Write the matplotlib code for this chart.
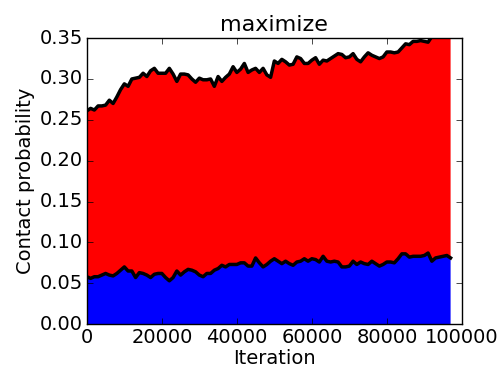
import numpy as np
import matplotlib
matplotlib.use("Agg")
import matplotlib.pyplot as plt

plt.style.use("classic")

iterations = np.arange(0, 98000, 1000)

upper = [0.261, 0.264, 0.262, 0.267, 0.267, 0.268, 0.274, 0.270, 0.278, 0.287,
         0.294, 0.291, 0.300, 0.301, 0.302, 0.307, 0.303, 0.310, 0.313, 0.307,
         0.307, 0.307, 0.313, 0.306, 0.297, 0.306, 0.306, 0.305, 0.300, 0.296,
         0.301, 0.299, 0.299, 0.300, 0.291, 0.303, 0.297, 0.302, 0.306, 0.315,
         0.308, 0.312, 0.319, 0.308, 0.311, 0.313, 0.308, 0.313, 0.305, 0.302,
         0.322, 0.319, 0.324, 0.321, 0.317, 0.318, 0.327, 0.325, 0.319, 0.319,
         0.323, 0.326, 0.318, 0.323, 0.322, 0.325, 0.328, 0.331, 0.330, 0.326,
         0.327, 0.331, 0.324, 0.321, 0.327, 0.332, 0.329, 0.327, 0.325, 0.327,
         0.333, 0.333, 0.332, 0.333, 0.338, 0.343, 0.342, 0.346, 0.346, 0.347,
         0.346, 0.345, 0.352, 0.354, 0.352, 0.356, 0.355, 0.358]

lower = [0.058, 0.056, 0.058, 0.058, 0.060, 0.062, 0.060, 0.059, 0.062, 0.066,
         0.070, 0.065, 0.065, 0.057, 0.063, 0.062, 0.060, 0.057, 0.061, 0.062,
         0.062, 0.057, 0.053, 0.057, 0.065, 0.060, 0.064, 0.067, 0.066, 0.064,
         0.060, 0.058, 0.062, 0.062, 0.066, 0.068, 0.072, 0.070, 0.073, 0.073,
         0.073, 0.075, 0.075, 0.071, 0.071, 0.081, 0.075, 0.070, 0.073, 0.077,
         0.080, 0.077, 0.074, 0.077, 0.074, 0.072, 0.076, 0.077, 0.080, 0.077,
         0.080, 0.079, 0.076, 0.083, 0.077, 0.076, 0.077, 0.076, 0.070, 0.070,
         0.071, 0.077, 0.073, 0.076, 0.074, 0.073, 0.077, 0.074, 0.071, 0.073,
         0.076, 0.076, 0.075, 0.080, 0.086, 0.086, 0.082, 0.083, 0.083, 0.083,
         0.084, 0.087, 0.077, 0.081, 0.082, 0.083, 0.084, 0.081]

title = "maximize"
xlabel = "Iteration"
ylabel = "Contact probability"

fig = plt.figure(figsize=(5.02, 3.70), dpi=100, facecolor="white")
ax = fig.add_axes([0.173, 0.124, 0.747, 0.773])

ax.fill_between(iterations, 0, lower, facecolor="#0000ff", edgecolor="none")
ax.fill_between(iterations, lower, upper, facecolor="#ff0000", edgecolor="none")
ax.plot(iterations, lower, color="black", lw=2.5)
ax.plot(iterations, upper, color="black", lw=2.5)

ax.set_xlim(0, 100000)
ax.set_ylim(0, 0.35)
ax.set_xticks([0, 20000, 40000, 60000, 80000, 100000])
ax.set_yticks(np.arange(0, 0.351, 0.05))
ax.set_yticklabels([f"{v:.2f}" for v in np.arange(0, 0.351, 0.05)])
ax.tick_params(labelsize=14, pad=3)
ax.set_title(title, fontsize=16, pad=5)
ax.set_xlabel(xlabel, fontsize=14, labelpad=1)
ax.set_ylabel(ylabel, fontsize=14, labelpad=3)

fig.savefig("out.png", dpi=100, facecolor="white")
